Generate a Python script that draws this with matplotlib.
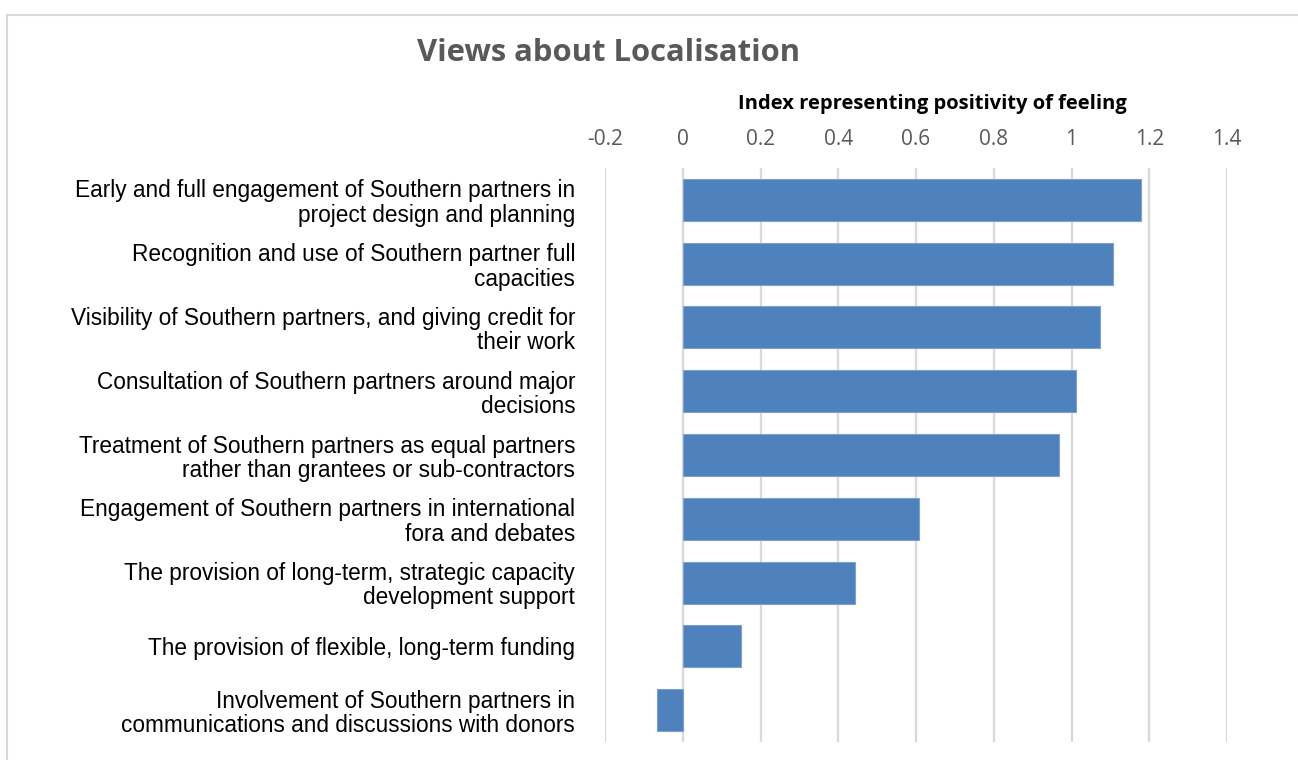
import matplotlib.pyplot as plt
from matplotlib.patches import Rectangle

categories = [
    "Early and full engagement of Southern partners in\nproject design and planning",
    "Recognition and use of Southern partner full\ncapacities",
    "Visibility of Southern partners, and giving credit for\ntheir work",
    "Consultation of Southern partners around major\ndecisions",
    "Treatment of Southern partners as equal partners\nrather than grantees or sub-contractors",
    "Engagement of Southern partners in international\nfora and debates",
    "The provision of long-term, strategic capacity\ndevelopment support",
    "The provision of flexible, long-term funding",
    "Involvement of Southern partners in\ncommunications and discussions with donors",
]
values = [1.179, 1.107, 1.074, 1.011, 0.968, 0.609, 0.444, 0.149, -0.065]
tick_values = [-0.2, 0, 0.2, 0.4, 0.6, 0.8, 1.0, 1.2, 1.4]
tick_labels = ["-0.2", "0", "0.2", "0.4", "0.6", "0.8", "1", "1.2", "1.4"]

W, H = 1298, 760
fig = plt.figure(figsize=(W / 100, H / 100), dpi=100)

# outer chart frame
fig.patches.append(Rectangle((7 / W, -0.01), 1.1, (H - 15) / H + 0.01,
                             transform=fig.transFigure, fill=False,
                             edgecolor="#D9D9D9", linewidth=1.5))

ax = fig.add_axes([605 / W, (H - 742) / H, (1227 - 605) / W, (742 - 168) / H])

y = list(range(len(categories)))
ax.barh(y, values, height=0.66, color="#4F81BD", edgecolor="#7EA1D0",
        linewidth=0.8, zorder=3)
ax.set_ylim(len(categories) - 0.5, -0.5)
ax.set_xlim(-0.2, 1.4)

ax.set_xticks(tick_values)
ax.set_xticklabels(tick_labels, family="Open Sans", fontsize=15, color="#595959")
ax.xaxis.tick_top()
ax.tick_params(axis="x", length=0, pad=13)
ax.set_yticks(y)
ax.set_yticklabels(categories, family="Liberation Sans", fontsize=16.3,
                   color="#000000", linespacing=1.08)
ax.tick_params(axis="y", length=0, pad=21.5)

ax.grid(axis="x", color="#D9D9D9", linewidth=1.6, zorder=0)
for s in ax.spines.values():
    s.set_visible(False)

fig.text(932 / W, 1 - 104 / H, "Index representing positivity of feeling",
         family="Open Sans", fontweight="bold", fontsize=14.5, color="#000000",
         ha="center", va="center")
fig.text(609 / W, 1 - 53 / H, "Views about Localisation",
         family="Open Sans", fontweight="bold", fontsize=22.3, color="#595959",
         ha="center", va="center")

fig.savefig("out.png", dpi=100)
